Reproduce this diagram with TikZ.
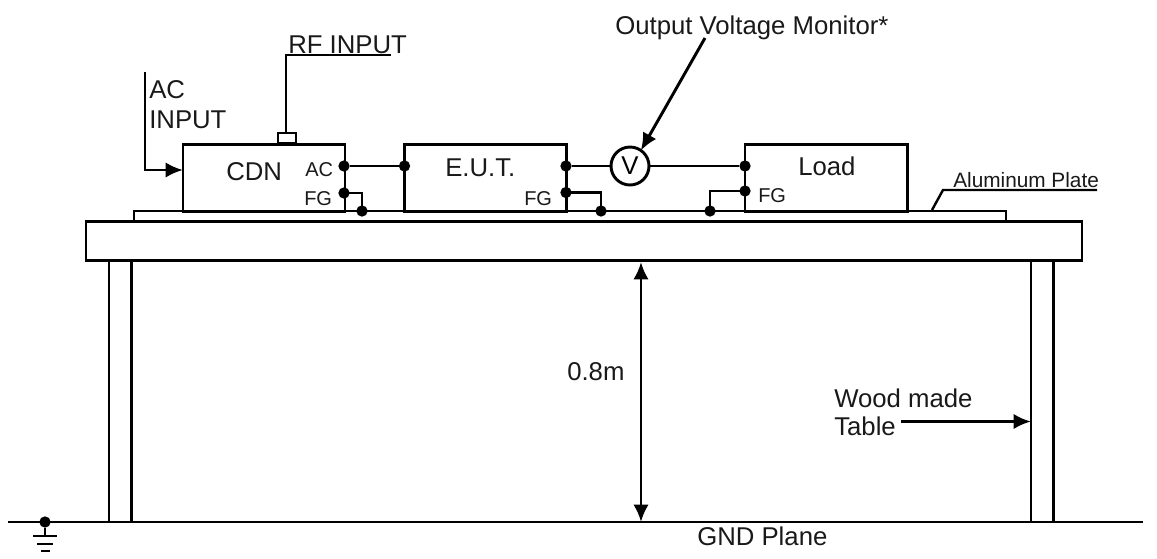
\documentclass[tikz,border=0pt]{standalone}
\usepackage{fontspec}
\setmainfont{Liberation Sans}
\usetikzlibrary{arrows.meta}
\tikzset{
  x=0.75pt,y=-0.75pt,
  ln/.style={draw=black,line width=2.2pt},
  boxs/.style={ln,fill=white,rectangle,inner sep=0pt,outer sep=0pt,anchor=north west},
  dotn/.style={circle,fill=black,inner sep=0pt,minimum size=8.5pt},
  big/.style={font=\fontsize{19.3}{19.3}\selectfont,inner sep=0pt,anchor=base west,text=black!90},
  mid/.style={font=\fontsize{15}{15}\selectfont,inner sep=0pt,anchor=base west,text=black!90},
  small/.style={font=\fontsize{15.6}{15.6}\selectfont,inner sep=0pt,anchor=base west,text=black!90},
  arr/.style={ln,-{Latex[length=13pt,width=11.5pt]}},
  arrs/.style={ln,{Latex[length=13pt,width=11.5pt]}-{Latex[length=13pt,width=11.5pt]}}
}
\begin{document}
\begin{tikzpicture}[line join=miter]
\useasboundingbox (0,0) rectangle (1157,558);
% ground line
\coordinate (gl) at (8,522); \coordinate (gr) at (1143,522);
\draw[ln] (gl) -- (gr);
% legs and table
\node[boxs,minimum width=17pt,minimum height=195.75pt] (legl) at (109,261) {};
\node[boxs,minimum width=17pt,minimum height=195.75pt] (legr) at (1031,261) {};
\node[boxs,minimum width=747pt,minimum height=29.5pt] (table) at (86,221.5) {};
\node[boxs,minimum width=654pt,minimum height=7.5pt] (plate) at (134,211) {};
% boxes
\node[boxs,minimum width=121.5pt,minimum height=50pt] (cdn) at (183,144.5) {};
\node[boxs,minimum width=121.5pt,minimum height=50pt] (eut) at (404.5,144.5) {};
\node[boxs,minimum width=122pt,minimum height=50pt] (load) at (745,144.5) {};
\node[boxs,minimum width=13.5pt,minimum height=8pt] (rf) at (278,133) {};
% dots
\node[dotn] (d1) at (344,166) {};
\node[dotn] (d2) at (344,193) {};
\node[dotn] (d3) at (362,211) {};
\node[dotn] (d4) at (404.5,166) {};
\node[dotn] (d5) at (566,166) {};
\node[dotn] (d6) at (566,192.5) {};
\node[dotn] (d7) at (601,211) {};
\node[dotn] (d8) at (710,211) {};
\node[dotn] (d9) at (745,166) {};
\node[dotn] (d10) at (745,191) {};
% wires
\draw[ln] (d1) -- (d4);
\draw[ln] (d5) -- (d9);
\node[circle,ln,fill=white,minimum size=28.5pt,inner sep=0pt,outer sep=0pt] (v) at (630,166) {\fontsize{19.3}{19.3}\selectfont V};
\draw[ln] (d2.center) -- (d3.center |- d2.center) -- (d3.center);
\draw[ln] (d6.center) -- (d7.center |- d6.center) -- (d7.center);
\draw[ln] (d10.center) -- (d8.center |- d10.center) -- (d8.center);
% inputs
\coordinate (rfa) at (286,55); \coordinate (rfb) at (391,55);
\draw[ln] (rfb) -- (rfa) -- (rf.north -| rfa);
\coordinate (aca) at (145,72); \coordinate (acb) at (145,170);
\draw[arr] (aca) -- (acb) -- (cdn.west |- acb);
% annotations
\coordinate (vs) at (705,38);
\draw[arr] (vs) -- (v.55);
\coordinate (alr) at (1097,190); \coordinate (alm) at (943,190); \coordinate (alb) at (932,210);
\draw[line width=1.8pt] (alr) -- (alm) -- (alb);
\coordinate (dimt) at (641,262); \coordinate (dimb) at (641,522);
\draw[arrs] (dimt) -- (dimb);
\coordinate (wa) at (901,421.5);
\draw[arr] (wa) -- (legr.west |- wa);
% ground symbol
\node[circle,fill=black,inner sep=0pt,minimum size=8.5pt] (gd) at (45,522) {};
\coordinate (g1) at (45,536);
\draw[line width=1.8pt] (gd) -- (g1);
\draw[line width=1.8pt] (33,536) -- (57,536) (37,544) -- (53,544) (41,551) -- (50,551);
% text
\node[big] (t1) at (288,53) {RF INPUT};
\node[big] (t2) at (149,98) {AC};
\node[big] (t3) at (149,128) {INPUT};
\node[big] (t4) at (226,180) {CDN};
\node[mid] (t5) at (305,176) {AC};
\node[mid] (t6) at (304,205) {FG};
\node[big] (t7) at (445,176) {E.U.T.};
\node[mid] (t8) at (524,205) {FG};
\node[big] (t9) at (615,34) {Output Voltage Monitor*};
\node[big] (t10) at (798,175) {Load};
\node[mid] (t11) at (758,202) {FG};
\node[small] (t12) at (953,187) {Aluminum Plate};
\node[big] (t13) at (567,380) {0.8m};
\node[big] (t14) at (834,407) {Wood made};
\node[big] (t15) at (834,435) {Table};
\node[big] (t16) at (697,545) {GND Plane};
\end{tikzpicture}
\end{document}
